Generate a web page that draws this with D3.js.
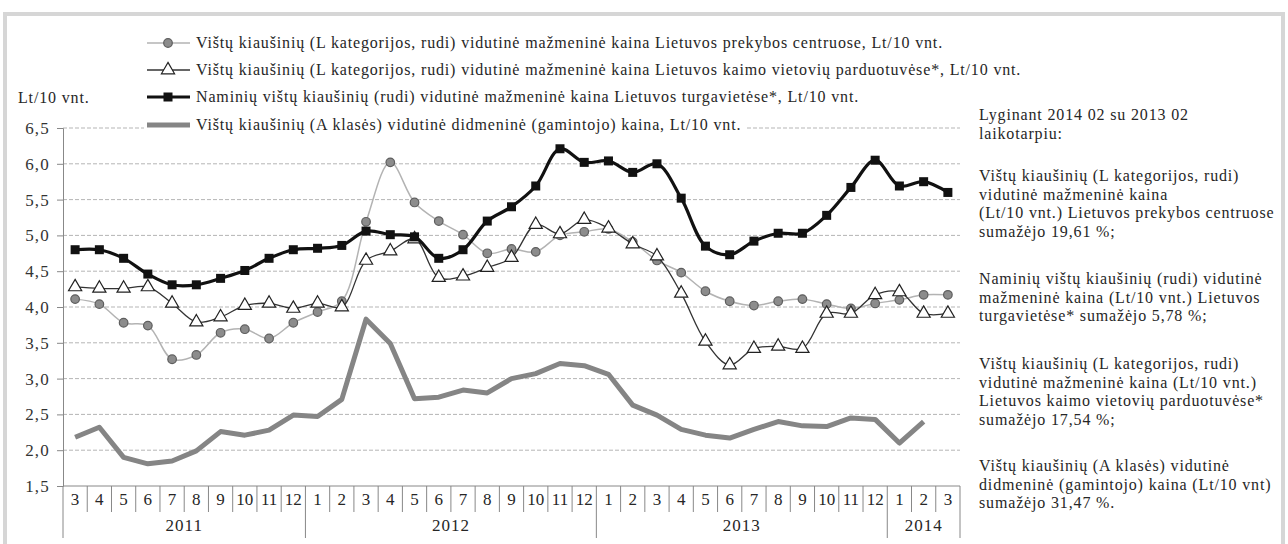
<!DOCTYPE html>
<html>
<head>
<meta charset="utf-8">
<script src="https://cdn.jsdelivr.net/npm/d3@7"></script>
<style>
  body { margin: 0; background: #fff; }
</style>
</head>
<body>
<svg id="chart" width="1288" height="544"></svg>
<script>
// Month labels (3/2011 .. 3/2014)
const months = ["3","4","5","6","7","8","9","10","11","12",
  "1","2","3","4","5","6","7","8","9","10","11","12",
  "1","2","3","4","5","6","7","8","9","10","11","12",
  "1","2","3"];
const years = [
  { label: "2011", from: 0, to: 10 },
  { label: "2012", from: 10, to: 22 },
  { label: "2013", from: 22, to: 34 },
  { label: "2014", from: 34, to: 37 }
];
const yTicks = [1.5, 2.0, 2.5, 3.0, 3.5, 4.0, 4.5, 5.0, 5.5, 6.0, 6.5];

// Series values, Lt/10 vnt.
const centruose = [4.11, 4.04, 3.78, 3.74, 3.27, 3.33, 3.64, 3.69, 3.56, 3.78,
  3.93, 4.08, 5.19, 6.02, 5.46, 5.20, 5.01, 4.75, 4.81, 4.77, 5.00, 5.05,
  5.09, 4.91, 4.65, 4.48, 4.22, 4.08, 4.02, 4.08, 4.11, 4.04, 3.98, 4.05,
  4.10, 4.17, 4.17];
const kaimo = [4.28, 4.26, 4.26, 4.28, 4.05, 3.79, 3.86, 4.02, 4.05, 3.98,
  4.05, 4.00, 4.65, 4.78, 4.95, 4.41, 4.43, 4.55, 4.69, 5.15, 5.02, 5.22,
  5.10, 4.88, 4.71, 4.19, 3.52, 3.19, 3.42, 3.45, 3.42, 3.91, 3.91, 4.17,
  4.21, 3.91, 3.91];
const turgavietes = [4.80, 4.80, 4.68, 4.46, 4.31, 4.31, 4.40, 4.51, 4.68, 4.80,
  4.82, 4.86, 5.06, 5.01, 4.98, 4.68, 4.80, 5.20, 5.40, 5.69, 6.21, 6.02,
  6.04, 5.88, 6.00, 5.52, 4.85, 4.73, 4.92, 5.03, 5.03, 5.28, 5.67, 6.05,
  5.69, 5.75, 5.60];
const didmenine = [2.18, 2.32, 1.90, 1.81, 1.85, 1.99, 2.26, 2.21, 2.28, 2.49,
  2.47, 2.71, 3.83, 3.49, 2.72, 2.74, 2.84, 2.80, 3.00, 3.07, 3.21, 3.18,
  3.06, 2.63, 2.49, 2.29, 2.21, 2.17, 2.29, 2.40, 2.34, 2.33, 2.45, 2.43,
  2.10, 2.40, null];

const legendLabels = [
  "Vištų kiaušinių (L kategorijos, rudi) vidutinė mažmeninė kaina Lietuvos prekybos centruose, Lt/10 vnt.",
  "Vištų kiaušinių (L kategorijos, rudi) vidutinė mažmeninė kaina Lietuvos kaimo vietovių parduotuvėse*, Lt/10 vnt.",
  "Naminių vištų kiaušinių (rudi) vidutinė mažmeninė kaina Lietuvos turgavietėse*, Lt/10 vnt.",
  "Vištų kiaušinių (A klasės) vidutinė didmeninė (gamintojo) kaina, Lt/10 vnt."
];
const noteLines = [
  ["Lyginant 2014 02 su 2013 02", "laikotarpiu:"],
  ["Vištų kiaušinių (L kategorijos, rudi)", "vidutinė mažmeninė kaina",
   "(Lt/10 vnt.) Lietuvos prekybos centruose", "sumažėjo 19,61 %;"],
  ["Naminių vištų kiaušinių (rudi) vidutinė", "mažmeninė kaina  (Lt/10 vnt.) Lietuvos",
   "turgavietėse* sumažėjo 5,78 %;"],
  ["Vištų kiaušinių (L kategorijos, rudi)", "vidutinė mažmeninė kaina (Lt/10 vnt.)",
   "Lietuvos kaimo vietovių parduotuvėse*", "sumažėjo 17,54 %;"],
  ["Vištų kiaušinių (A klasės) vidutinė", "didmeninė (gamintojo) kaina (Lt/10 vnt)",
   "sumažėjo 31,47 %."]
];

const svg = d3.select("#chart");
const plotLeft = 63, plotRight = 960, plotTop = 128, plotBottom = 486;
const FONT = 16;
const SERIF = "'Liberation Serif'";
const TEXT_COLOR = "#262626";

const x = d3.scaleBand().domain(d3.range(months.length)).range([plotLeft, plotRight]);
const y = d3.scaleLinear().domain([1.5, 6.5]).range([plotBottom, plotTop]);
const cx = i => x(i) + x.bandwidth() / 2;
const edge = i => (i < months.length ? x(i) : plotRight);

// Letter spacing so the first legend entry spans from x=196 to about x=943
const probe = svg.append("text").style("font-family", SERIF)
  .attr("font-size", FONT).text(legendLabels[0]);
const probeW = probe.node().getComputedTextLength();
probe.remove();
const SPACING = Math.max(0, (747 - probeW) / legendLabels[0].length);

// Outer frame
svg.append("rect")
  .attr("x", 5).attr("y", 14).attr("width", 1278).attr("height", 560)
  .attr("fill", "none").attr("stroke", "#d6d6d6").attr("stroke-width", 4);

// Gridlines
svg.append("g").selectAll("line")
  .data(yTicks.slice(1))
  .join("line")
  .attr("x1", plotLeft).attr("x2", plotRight)
  .attr("y1", d => y(d)).attr("y2", d => y(d))
  .attr("stroke", "#b5b5b5").attr("stroke-dasharray", "4,2").attr("stroke-width", 1);

// Y axis
const yAxis = d3.axisLeft(y).tickValues(yTicks).tickSize(6).tickPadding(7)
  .tickFormat(d => d3.format(".1f")(d).replace(".", ","));
svg.append("g")
  .attr("transform", `translate(${plotLeft},0)`)
  .call(yAxis)
  .call(g => g.select(".domain").attr("stroke", "#888"))
  .call(g => g.selectAll(".tick line").attr("stroke", "#888"))
  .call(g => g.selectAll(".tick text")
    .attr("font-size", 17).attr("letter-spacing", 1.2).attr("fill", "#333"));

svg.append("text").attr("x", 18).attr("y", 103)
  .attr("font-size", FONT).attr("letter-spacing", SPACING)
  .attr("fill", TEXT_COLOR).text("Lt/10 vnt.");

// X axis: months and years
const xg = svg.append("g");
xg.append("line").attr("x1", plotLeft).attr("x2", plotRight)
  .attr("y1", plotBottom).attr("y2", plotBottom).attr("stroke", "#888");
xg.selectAll(".msep").data(d3.range(months.length + 1))
  .join("line")
  .attr("x1", edge).attr("x2", edge)
  .attr("y1", plotBottom)
  .attr("y2", i => (years.some(yr => yr.from === i) || i === months.length) ? 538 : 512)
  .attr("stroke", "#888");
xg.selectAll(".mlab").data(months)
  .join("text")
  .attr("x", (d, i) => cx(i)).attr("y", 505)
  .attr("text-anchor", "middle").attr("font-size", 17).attr("fill", TEXT_COLOR)
  .text(d => d);
xg.selectAll(".ylab").data(years)
  .join("text")
  .attr("x", d => (edge(d.from) + edge(d.to)) / 2).attr("y", 531)
  .attr("text-anchor", "middle").attr("font-size", 17).attr("letter-spacing", 1)
  .attr("fill", TEXT_COLOR)
  .text(d => d.label);

// Lines
const smooth = d3.line().defined(d => d != null)
  .x((d, i) => cx(i)).y(d => y(d)).curve(d3.curveCatmullRom.alpha(0.5));
const straight = d3.line().defined(d => d != null)
  .x((d, i) => cx(i)).y(d => y(d));

svg.append("path").datum(didmenine).attr("d", straight)
  .attr("fill", "none").attr("stroke", "#858585").attr("stroke-width", 5)
  .attr("stroke-linejoin", "round");

svg.append("path").datum(centruose).attr("d", smooth)
  .attr("fill", "none").attr("stroke", "#b3b3b3").attr("stroke-width", 1.5);
svg.append("g").selectAll("circle").data(centruose)
  .join("circle")
  .attr("cx", (d, i) => cx(i)).attr("cy", d => y(d)).attr("r", 4.3)
  .attr("fill", "#8c8c8c").attr("stroke", "#5e5e5e").attr("stroke-width", 1.2);

const tri = d3.symbol().type(d3.symbolTriangle).size(75);
svg.append("path").datum(kaimo).attr("d", smooth)
  .attr("fill", "none").attr("stroke", "#333").attr("stroke-width", 1.3);
svg.append("g").selectAll("path").data(kaimo)
  .join("path")
  .attr("d", tri)
  .attr("transform", (d, i) => `translate(${cx(i)},${y(d)})`)
  .attr("fill", "#fff").attr("stroke", "#222").attr("stroke-width", 1.2);

svg.append("path").datum(turgavietes).attr("d", smooth)
  .attr("fill", "none").attr("stroke", "#111").attr("stroke-width", 3.2);
svg.append("g").selectAll("rect").data(turgavietes)
  .join("rect")
  .attr("x", (d, i) => cx(i) - 4.5).attr("y", d => y(d) - 4.5)
  .attr("width", 9).attr("height", 9).attr("fill", "#111");

// Legend
const legend = svg.append("g");
const rowY = [43, 70, 97, 125];
legendLabels.forEach((label, k) => {
  const row = legend.append("g").attr("transform", `translate(0,${rowY[k]})`);
  const bg = row.append("rect").attr("fill", "#fff");
  const t = row.append("text").attr("x", 196).attr("y", 5)
    .style("font-family", SERIF)
    .attr("font-size", FONT).attr("letter-spacing", SPACING)
    .attr("fill", TEXT_COLOR).text(label);
  const w = t.node().getComputedTextLength();
  bg.attr("x", 144).attr("y", -9).attr("width", w + 56).attr("height", 18);
  if (k === 0) {
    row.append("line").attr("x1", 147).attr("x2", 190).attr("stroke", "#b3b3b3").attr("stroke-width", 1.5);
    row.append("circle").attr("cx", 168).attr("r", 4.3)
      .attr("fill", "#8c8c8c").attr("stroke", "#5e5e5e").attr("stroke-width", 1.2);
  } else if (k === 1) {
    row.append("line").attr("x1", 147).attr("x2", 190).attr("stroke", "#333").attr("stroke-width", 1.3);
    row.append("path").attr("d", tri).attr("transform", "translate(168,0)")
      .attr("fill", "#fff").attr("stroke", "#222").attr("stroke-width", 1.2);
  } else if (k === 2) {
    row.append("line").attr("x1", 147).attr("x2", 190).attr("stroke", "#111").attr("stroke-width", 3.2);
    row.append("rect").attr("x", 163.5).attr("y", -4.5).attr("width", 9).attr("height", 9).attr("fill", "#111");
  } else {
    row.append("line").attr("x1", 147).attr("x2", 190).attr("stroke", "#858585").attr("stroke-width", 5);
  }
});

// Side notes
const blockY = [120, 181, 284, 369, 471];
const notes = svg.append("g");
noteLines.forEach((lines, b) => {
  lines.forEach((line, j) => {
    notes.append("text").attr("x", 979).attr("y", blockY[b] + j * 18.7)
      .attr("font-size", FONT).attr("letter-spacing", SPACING)
      .attr("fill", TEXT_COLOR).text(line);
  });
});

// Every label in the serif face
svg.selectAll("text").style("font-family", SERIF);
</script>
</body>
</html>
